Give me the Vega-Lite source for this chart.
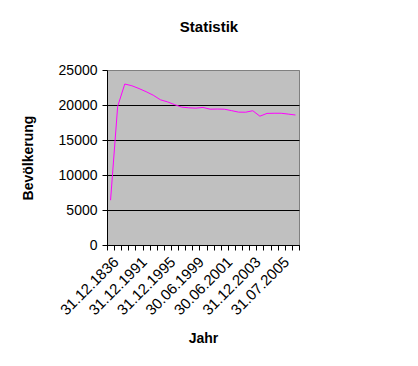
{
  "$schema": "https://vega.github.io/schema/vega-lite/v6.json",
  "width": 192,
  "height": 175,
  "autosize": "none",
  "padding": {"left": 107, "top": 70, "right": 119, "bottom": 121},
  "background": "white",
  "title": {
    "text": "Statistik",
    "font": "Liberation Sans",
    "fontSize": 15,
    "fontWeight": "bold",
    "color": "black",
    "anchor": "middle",
    "dx": 6,
    "offset": 28
  },
  "config": {
    "view": {"fill": "#C0C0C0", "stroke": "#808080", "strokeWidth": 1},
    "axis": {
      "labelFont": "Liberation Sans",
      "titleFont": "Liberation Sans",
      "labelColor": "black",
      "titleColor": "black",
      "domainColor": "black",
      "tickColor": "black",
      "tickSize": 5
    }
  },
  "data": {
    "values": [
      {"Jahr": "31.12.1836", "Bevoelkerung": 6400},
      {"Jahr": "31.12.1950", "Bevoelkerung": 19800},
      {"Jahr": "31.12.1970", "Bevoelkerung": 23000},
      {"Jahr": "31.12.1987", "Bevoelkerung": 22750},
      {"Jahr": "31.12.1991", "Bevoelkerung": 22350},
      {"Jahr": "31.12.1992", "Bevoelkerung": 21900},
      {"Jahr": "31.12.1993", "Bevoelkerung": 21400},
      {"Jahr": "31.12.1994", "Bevoelkerung": 20750},
      {"Jahr": "31.12.1995", "Bevoelkerung": 20450},
      {"Jahr": "31.12.1996", "Bevoelkerung": 20050},
      {"Jahr": "31.12.1997", "Bevoelkerung": 19700},
      {"Jahr": "31.12.1998", "Bevoelkerung": 19600},
      {"Jahr": "30.06.1999", "Bevoelkerung": 19550},
      {"Jahr": "31.12.1999", "Bevoelkerung": 19650},
      {"Jahr": "30.06.2000", "Bevoelkerung": 19400},
      {"Jahr": "31.12.2000", "Bevoelkerung": 19420},
      {"Jahr": "30.06.2001", "Bevoelkerung": 19400},
      {"Jahr": "31.12.2001", "Bevoelkerung": 19200},
      {"Jahr": "31.12.2002", "Bevoelkerung": 18980},
      {"Jahr": "30.06.2003", "Bevoelkerung": 18970},
      {"Jahr": "31.12.2003", "Bevoelkerung": 19180},
      {"Jahr": "30.06.2004", "Bevoelkerung": 18400},
      {"Jahr": "31.12.2004", "Bevoelkerung": 18800},
      {"Jahr": "30.06.2005", "Bevoelkerung": 18820},
      {"Jahr": "31.07.2005", "Bevoelkerung": 18820},
      {"Jahr": "31.12.2005", "Bevoelkerung": 18700},
      {"Jahr": "30.06.2006", "Bevoelkerung": 18570}
    ]
  },
  "mark": {"type": "line", "color": "#FF00FF", "strokeWidth": 1},
  "encoding": {
    "x": {
      "field": "Jahr",
      "type": "ordinal",
      "sort": null,
      "bandPosition": 0.5,
      "scale": {"type": "band", "paddingInner": 0, "paddingOuter": 0},
      "axis": {
        "title": "Jahr",
        "titleFontSize": 14,
        "titleFontWeight": "bold",
        "titlePadding": 14,
        "labelFontSize": 15,
        "labelAngle": -45,
        "labelAlign": "right",
        "labelBaseline": "top",
        "labelPadding": 4,
        "labelOverlap": false,
        "tickBand": "extent",
        "grid": false,
        "labelExpr": "indexof(['31.12.1836','31.12.1991','31.12.1995','30.06.1999','30.06.2001','31.12.2003','31.07.2005'], datum.value) >= 0 ? datum.label : ''"
      }
    },
    "y": {
      "field": "Bevoelkerung",
      "type": "quantitative",
      "scale": {"domain": [0, 25000], "nice": false},
      "axis": {
        "title": "Bevölkerung",
        "titleFontSize": 14,
        "titleFontWeight": "bold",
        "titlePadding": 23,
        "labelFontSize": 14,
        "labelPadding": 5,
        "values": [0, 5000, 10000, 15000, 20000, 25000],
        "format": "d",
        "grid": true,
        "gridColor": {"condition": {"test": "datum.value >= 25000", "value": "#808080"}, "value": "black"},
        "gridOpacity": 1,
        "gridWidth": 1
      }
    }
  }
}
